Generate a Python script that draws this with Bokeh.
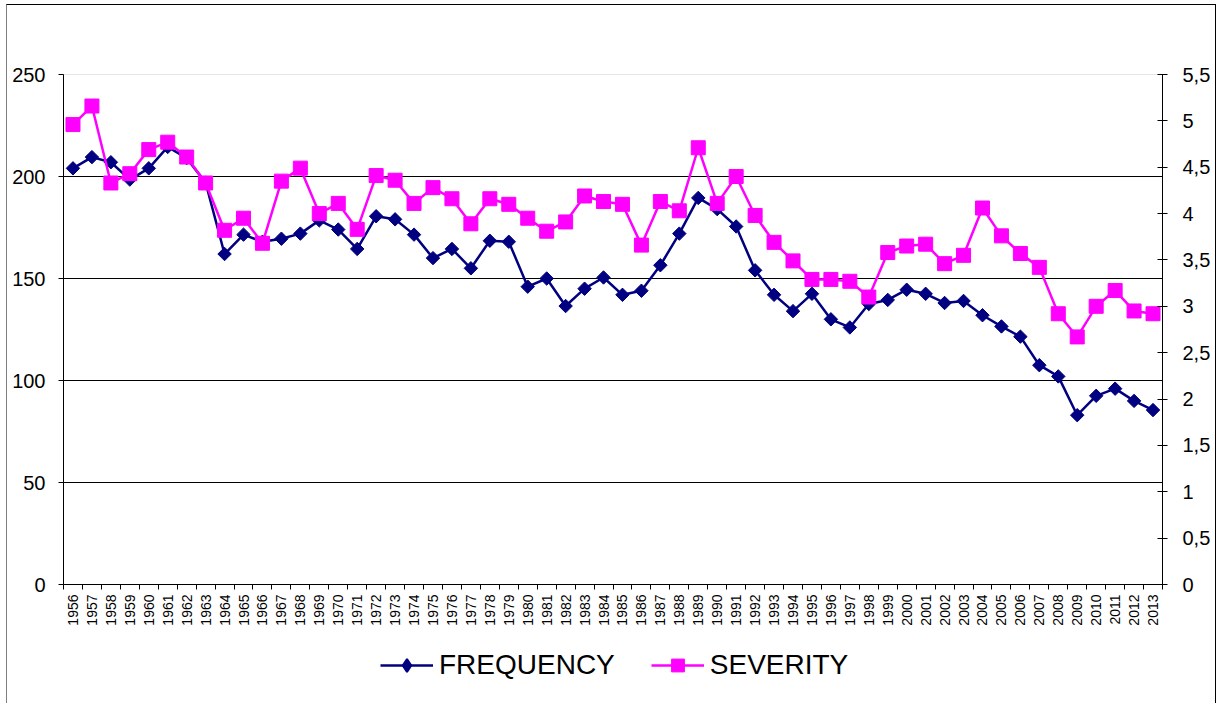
import math
from bokeh.plotting import figure
from bokeh.layouts import column
from bokeh.models import (Range1d, LinearAxis, FixedTicker, CustomJSTickFormatter,
                          Legend, LegendItem, ColumnDataSource)
from bokeh.embed import file_html
from bokeh.resources import INLINE

years = list(range(1956, 2014))
frequency = [204, 209.5, 207, 198.5, 204, 214.5, 209, 197, 162, 171.5,
             168, 169.5, 172, 178.5, 174, 164.5, 180.5, 179, 171.5,
             160, 164.5, 155, 168.5, 168, 146, 150, 136.5, 145, 150.5,
             142, 144, 156.5, 172, 189.5, 184, 175.5, 154, 142, 134, 142.5,
             130, 126, 137.5, 139.5, 144.5, 142.5, 138, 139, 132, 126.5,
             121.5, 107.5, 102, 83, 92.5, 96, 90, 85.5]
severity = [4.96, 5.16, 4.33, 4.43, 4.69, 4.77, 4.61, 4.33, 3.82, 3.95,
            3.68, 4.35, 4.49, 4.00, 4.11, 3.83, 4.41, 4.36, 4.11,
            4.28, 4.16, 3.89, 4.16, 4.10, 3.95, 3.81, 3.91, 4.19, 4.13,
            4.10, 3.66, 4.13, 4.03, 4.71, 4.11, 4.40, 3.98, 3.69, 3.49, 3.29,
            3.29, 3.27, 3.10, 3.58, 3.65, 3.67, 3.46, 3.55, 4.06, 3.76,
            3.57, 3.42, 2.92, 2.67, 3.00, 3.17, 2.95, 2.92]
left_ticks = [0, 50, 100, 150, 200, 250]
grid_ticks = [50, 100, 150, 200]
right_ticks = [0, 0.5, 1, 1.5, 2, 2.5, 3, 3.5, 4, 4.5, 5, 5.5]
series_names = ["FREQUENCY", "SEVERITY"]

FONT = "Liberation Sans"
NAVY = "#000080"
MAG = "#FF00FF"

src = ColumnDataSource(data=dict(year=years, freq=frequency, sev=severity))

p = figure(width=1208, height=624, output_backend="svg", toolbar_location=None,
           x_range=Range1d(years[0] - 0.5, years[-1] + 0.5),
           y_range=Range1d(left_ticks[0], left_ticks[-1]),
           min_border_left=56, min_border_right=53, min_border_top=69,
           min_border_bottom=45)
p.extra_y_ranges = {"sev": Range1d(right_ticks[0], right_ticks[-1])}
p.outline_line_color = "#e6e6e6"
p.background_fill_color = "white"

# x axis
xa = p.xaxis[0]
xa.ticker = FixedTicker(ticks=years, minor_ticks=[y - 0.5 for y in years] + [years[-1] + 0.5])
xa.major_tick_line_color = None
xa.minor_tick_in = 0
xa.minor_tick_out = 5
xa.minor_tick_line_color = "black"
xa.axis_line_color = "black"
xa.major_label_orientation = math.pi / 2
xa.major_label_text_font = FONT
xa.major_label_text_font_size = "14px"
xa.major_label_text_color = "black"
xa.major_label_standoff = 4
p.xgrid.visible = False

# left axis
ya = p.yaxis[0]
ya.ticker = FixedTicker(ticks=left_ticks)
ya.major_tick_in = 0
ya.major_tick_out = 5
ya.minor_tick_line_color = None
ya.axis_line_color = "black"
ya.major_tick_line_color = "black"
ya.major_label_text_font = FONT
ya.major_label_text_font_size = "20px"
ya.major_label_text_color = "black"
ya.major_label_standoff = 13
p.ygrid.ticker = FixedTicker(ticks=grid_ticks)
p.ygrid.grid_line_color = "black"
p.ygrid.grid_line_width = 1

# right axis
ra = LinearAxis(y_range_name="sev", ticker=FixedTicker(ticks=right_ticks),
                formatter=CustomJSTickFormatter(code="return tick.toString().replace('.', ',');"))
ra.major_tick_in = 5
ra.major_tick_out = 5
ra.minor_tick_line_color = None
ra.axis_line_color = "black"
ra.major_tick_line_color = "black"
ra.major_label_text_font = FONT
ra.major_label_text_font_size = "20px"
ra.major_label_text_color = "black"
ra.major_label_standoff = 15
p.add_layout(ra, "right")

p.line("year", "freq", source=src, line_color=NAVY, line_width=2.5)
p.scatter("year", "freq", source=src, marker="square", angle=math.pi / 4,
          size=9.5, fill_color=NAVY, line_color=NAVY)
p.line("year", "sev", source=src, y_range_name="sev", line_color=MAG, line_width=2.5)
p.scatter("year", "sev", source=src, y_range_name="sev", marker="square",
          size=14, fill_color=MAG, line_color=MAG)

# legend strip below the chart (same series, drawn out of view; only the legend shows)
q = figure(width=1208, height=74, output_backend="svg", toolbar_location=None,
           x_range=Range1d(0, 1), y_range=Range1d(0, 1),
           x_axis_location=None, y_axis_location=None, min_border=0)
q.grid.visible = False
q.outline_line_color = None
q.background_fill_color = "white"
r1 = q.line("year", "freq", source=src, line_color=NAVY, line_width=2.5)
s1 = q.scatter("year", "freq", source=src, marker="diamond",
               size=13, fill_color=NAVY, line_color=NAVY, line_width=2)
r2 = q.line("year", "sev", source=src, line_color=MAG, line_width=2.5)
s2 = q.scatter("year", "sev", source=src, marker="square",
               size=14, fill_color=MAG, line_color=MAG)

legend = Legend(items=[LegendItem(label=series_names[0], renderers=[r1, s1]),
                       LegendItem(label=series_names[1], renderers=[r2, s2])],
                orientation="horizontal", location=(317, 22),
                glyph_width=53, glyph_height=32, label_standoff=6, spacing=36,
                label_text_font=FONT, label_text_font_size="28px",
                label_text_color="black", border_line_color=None,
                background_fill_alpha=0, padding=0, margin=0)
q.add_layout(legend, "center")

layout = column(p, q, spacing=0)
layout.styles = {"border-top": "1px solid #000000", "border-right": "1px solid #000000",
                 "border-left": "1px solid #808080", "margin-left": "6px", "margin-top": "4px"}

open("out.html", "w").write(file_html(layout, INLINE))
